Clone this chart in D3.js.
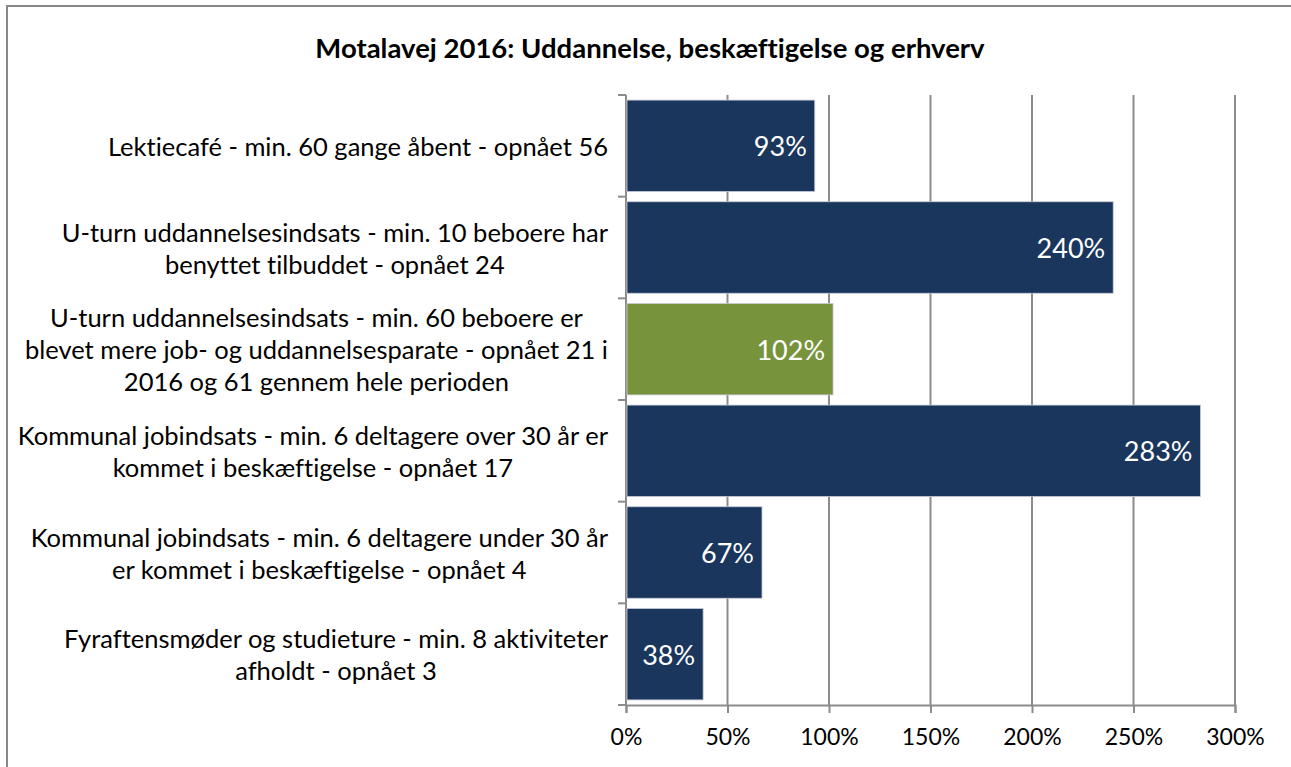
<!DOCTYPE html>
<html>
<head>
<meta charset="utf-8">
<script src="https://cdn.jsdelivr.net/npm/d3@7"></script>
<style>
  body { margin: 0; background: #fff; }
  svg { display: block; font-family: Lato, "Open Sans", sans-serif; font-variant-ligatures: none; font-feature-settings: "liga" 0, "dlig" 0; }
</style>
</head>
<body>
<div id="chart"></div>
<script>
// data
const title = "Motalavej 2016: Uddannelse, beskæftigelse og erhverv";
const categories = [
  ["Lektiecafé - min. 60 gange åbent - opnået 56"],
  ["U-turn uddannelsesindsats - min. 10 beboere har", "benyttet tilbuddet - opnået 24"],
  ["U-turn uddannelsesindsats - min. 60 beboere er", "blevet mere job- og uddannelsesparate - opnået 21 i", "2016 og 61 gennem hele perioden"],
  ["Kommunal jobindsats - min. 6 deltagere over 30 år er", "kommet i beskæftigelse - opnået 17"],
  ["Kommunal jobindsats - min. 6 deltagere under 30 år", "er kommet i beskæftigelse - opnået 4"],
  ["Fyraftensmøder og studieture - min. 8 aktiviteter", "afholdt - opnået 3"]
];
const values = [0.93, 2.40, 1.02, 2.83, 0.67, 0.38];
const barColors = ["#1a365d", "#1a365d", "#77933c", "#1a365d", "#1a365d", "#1a365d"];
const xTicks = [0, 0.5, 1, 1.5, 2, 2.5, 3];

const width = 1291, height = 767;
const plotLeft = 626, plotRight = 1235, plotTop = 95, plotBottom = 705;
const gridColor = "#8c8c8c";

const svg = d3.select("#chart").append("svg")
    .attr("width", width)
    .attr("height", height);

svg.append("rect")
    .attr("width", width)
    .attr("height", height)
    .attr("fill", "#fff");

// outer chart border
svg.append("rect")
    .attr("x", 7)
    .attr("y", 6)
    .attr("width", 1290)
    .attr("height", 800)
    .attr("fill", "none")
    .attr("stroke", "#878787")
    .attr("stroke-width", 2);

svg.append("text")
    .attr("x", 650)
    .attr("y", 47)
    .attr("text-anchor", "middle")
    .attr("dominant-baseline", "central")
    .attr("font-weight", "bold")
    .attr("font-size", 27.5)
    .attr("fill", "#000")
    .text(title);

const xScale = d3.scaleLinear().domain([0, 3]).range([plotLeft, plotRight]);
const yScale = d3.scaleBand()
    .domain(d3.range(categories.length))
    .range([plotTop, plotBottom])
    .paddingInner(0.1)
    .paddingOuter(0.05);

// vertical gridlines
svg.append("g")
    .selectAll("line")
    .data(xTicks.slice(1))
    .enter().append("line")
    .attr("x1", d => xScale(d))
    .attr("x2", d => xScale(d))
    .attr("y1", plotTop)
    .attr("y2", plotBottom)
    .attr("stroke", gridColor)
    .attr("stroke-width", 2);

// bottom axis
const xAxis = d3.axisBottom(xScale)
    .tickValues(xTicks)
    .tickSize(8)
    .tickPadding(16)
    .tickFormat(d => Math.round(d * 100) + "%");

const gx = svg.append("g")
    .attr("transform", `translate(0,${plotBottom})`)
    .call(xAxis);
gx.select(".domain").attr("stroke", gridColor).attr("stroke-width", 2);
gx.selectAll(".tick line").attr("stroke", gridColor).attr("stroke-width", 2);
gx.selectAll(".tick text")
    .attr("font-size", 23)
    .attr("font-family", "Lato, sans-serif")
    .attr("fill", "#000");

// left axis: line + ticks at band boundaries
const bandH = (plotBottom - plotTop) / categories.length;
const boundaries = d3.range(categories.length + 1).map(i => plotTop + i * bandH);
svg.append("line")
    .attr("x1", plotLeft).attr("x2", plotLeft)
    .attr("y1", plotTop).attr("y2", plotBottom)
    .attr("stroke", gridColor)
    .attr("stroke-width", 2);
svg.append("g")
    .selectAll("line")
    .data(boundaries)
    .enter().append("line")
    .attr("x1", plotLeft - 8)
    .attr("x2", plotLeft)
    .attr("y1", d => d)
    .attr("y2", d => d)
    .attr("stroke", gridColor)
    .attr("stroke-width", 2);

// bars
svg.append("g")
    .selectAll("rect")
    .data(values)
    .enter().append("rect")
    .attr("x", xScale(0) + 1)
    .attr("y", (d, i) => yScale(i))
    .attr("width", d => xScale(d) - xScale(0) - 1)
    .attr("height", yScale.bandwidth())
    .attr("fill", (d, i) => barColors[i])
    .attr("stroke", "#c9ced6")
    .attr("stroke-width", 0.8);

// data labels
svg.append("g")
    .selectAll("text")
    .data(values)
    .enter().append("text")
    .attr("x", d => xScale(d) - 8)
    .attr("y", (d, i) => yScale(i) + yScale.bandwidth() / 2)
    .attr("text-anchor", "end")
    .attr("dominant-baseline", "central")
    .attr("font-size", 27)
    .attr("fill", "#fff")
    .text(d => Math.round(d * 100) + "%");

// category labels, centred block right-aligned next to the axis
const labelRight = 608;
const lineH = 32;
const labels = svg.append("g")
    .selectAll("g")
    .data(categories)
    .enter().append("g");

labels.each(function(lines, i) {
    const g = d3.select(this);
    const cy = plotTop + (i + 0.5) * bandH;
    const texts = g.selectAll("text")
        .data(lines)
        .enter().append("text")
        .attr("text-anchor", "middle")
        .attr("dominant-baseline", "central")
        .attr("font-size", 25.5)
        .attr("fill", "#000")
        .attr("y", (d, j) => cy + (j - (lines.length - 1) / 2) * lineH)
        .text(d => d);
    let maxW = 0;
    texts.each(function() { maxW = Math.max(maxW, this.getComputedTextLength()); });
    texts.attr("x", labelRight - maxW / 2);
});
</script>
</body>
</html>
